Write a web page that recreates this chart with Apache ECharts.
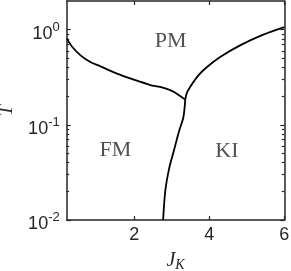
<!DOCTYPE html>
<html><head><meta charset="utf-8">
<script src="https://cdn.jsdelivr.net/npm/echarts@6/dist/echarts.min.js"></script>
<style>html,body{margin:0;padding:0;background:#fff}#c{width:291px;height:271px}</style>
</head><body><div id="c"></div>
<script>
// FM–PM boundary
const fmPmJ = [0.20, 0.35, 0.57, 0.83, 1.10, 1.54, 1.98, 2.43, 2.69, 2.96, 3.05, 3.36];
const fmPmT = [0.81, 0.657, 0.537, 0.457, 0.412, 0.345, 0.299, 0.262, 0.250, 0.232, 0.222, 0.184];
// PM–KI boundary
const pmKiJ = [3.36, 3.40, 3.49, 3.71, 3.94, 4.29, 4.82, 5.44, 6.00];
const pmKiT = [0.184, 0.215, 0.250, 0.331, 0.405, 0.516, 0.684, 0.887, 1.065];
// FM–KI boundary
const fmKiJ = [3.36, 3.31, 3.20, 3.06, 2.94, 2.83, 2.77];
const fmKiT = [0.184, 0.120, 0.0870, 0.0541, 0.0362, 0.0206, 0.0100];
// phase labels
const phaseNames = ['PM', 'FM', 'KI'];
const phaseJ = [2.97, 1.50, 4.47];
const phaseT = [0.757, 0.0535, 0.0530];
// ticks
const xTicks = [2, 4, 6];
const yMajor = [0.01, 0.1, 1];
const yMinor = [0.02,0.03,0.04,0.05,0.06,0.07,0.08,0.09,0.2,0.3,0.4,0.5,0.6,0.7,0.8,0.9];

const zip = (a, b) => a.map((v, i) => [v, b[i]]);
const axCol = '#262626';
const gridRect = {left: 66.7, right: 6.7, top: 1, bottom: 51, containLabel: false, outerBoundsMode: 'none'};
const xBase = {type: 'value', min: 0.2, max: 6, splitLine: {show: false}};
const yBase = {type: 'log', logBase: 10, min: 0.01, max: 2, splitLine: {show: false}};

const chart = echarts.init(document.getElementById('c'), null, {renderer: 'canvas'});
chart.setOption({
  animation: false,
  backgroundColor: '#fff',
  grid: [Object.assign({}, gridRect), Object.assign({}, gridRect)],
  xAxis: [
    Object.assign({}, xBase, {
      gridIndex: 0, position: 'bottom',
      axisLine: {lineStyle: {color: axCol, width: 1.5}},
      axisTick: {inside: true, length: 4, customValues: xTicks, lineStyle: {color: axCol, width: 1.2}},
      axisLabel: {customValues: xTicks, margin: 6, color: axCol, fontFamily: 'Liberation Sans', fontSize: 18},
      name: '{j|J}{k|K}', nameLocation: 'middle', nameGap: 30,
      nameTextStyle: {rich: {
        j: {fontFamily: 'Liberation Serif', fontStyle: 'italic', fontSize: 20, lineHeight: 20, padding: [1,0,1,0], color: axCol},
        k: {fontFamily: 'Liberation Serif', fontStyle: 'italic', fontSize: 14, lineHeight: 13, padding: [9,0,0,0], color: axCol}
      }}
    }),
    Object.assign({}, xBase, {
      gridIndex: 0, position: 'top',
      axisLine: {lineStyle: {color: axCol, width: 1.5}},
      axisTick: {inside: true, length: 4, customValues: xTicks, lineStyle: {color: axCol, width: 1.2}},
      axisLabel: {show: false}
    }),
    Object.assign({}, xBase, {gridIndex: 1, show: false})
  ],
  yAxis: [
    Object.assign({}, yBase, {
      gridIndex: 0, position: 'left',
      axisLine: {lineStyle: {color: axCol, width: 1.5}},
      axisTick: {inside: true, length: 4, customValues: yMajor, lineStyle: {color: axCol, width: 1.2}},
      axisLabel: {
        customValues: yMajor, margin: 7, align: 'right',
        formatter: v => '{b|10}{s|' + Math.round(Math.log10(v)) + '}',
        rich: {
          b: {fontFamily: 'Liberation Sans', fontSize: 18, lineHeight: 18, padding: [8,0,0,0], color: axCol},
          s: {fontFamily: 'Liberation Sans', fontSize: 13, lineHeight: 13, padding: [4,0,9,0], color: axCol}
        }
      },
      name: 'T', nameLocation: 'middle', nameGap: 50, nameRotate: 90,
      nameTextStyle: {fontFamily: 'Liberation Serif', fontStyle: 'italic', fontSize: 20, color: axCol}
    }),
    Object.assign({}, yBase, {
      gridIndex: 0, position: 'right',
      axisLine: {lineStyle: {color: axCol, width: 1.5}},
      axisTick: {inside: true, length: 4, customValues: yMajor, lineStyle: {color: axCol, width: 1.2}},
      axisLabel: {show: false}
    }),
    Object.assign({}, yBase, {
      gridIndex: 1, position: 'left',
      axisLine: {show: false},
      axisTick: {inside: true, length: 2.5, customValues: yMinor, lineStyle: {color: axCol, width: 1.2}},
      axisLabel: {show: false}
    }),
    Object.assign({}, yBase, {
      gridIndex: 1, position: 'right',
      axisLine: {show: false},
      axisTick: {inside: true, length: 2.5, customValues: yMinor, lineStyle: {color: axCol, width: 1.2}},
      axisLabel: {show: false}
    })
  ],
  series: [
    {type: 'line', xAxisIndex: 0, yAxisIndex: 0, data: zip(fmPmJ, fmPmT), showSymbol: false, symbol: 'none',
     smooth: 0.3, lineStyle: {color: '#000', width: 1.8}, clip: true},
    {type: 'line', xAxisIndex: 0, yAxisIndex: 0, data: zip(pmKiJ, pmKiT), showSymbol: false, symbol: 'none',
     smooth: 0.3, lineStyle: {color: '#000', width: 1.8}, clip: true},
    {type: 'line', xAxisIndex: 0, yAxisIndex: 0, data: zip(fmKiJ, fmKiT), showSymbol: false, symbol: 'none',
     smooth: 0.3, lineStyle: {color: '#000', width: 1.8}, clip: true},
    {type: 'scatter', xAxisIndex: 0, yAxisIndex: 0, symbolSize: 0,
     data: phaseNames.map((n, i) => ({name: n, value: [phaseJ[i], phaseT[i]]})),
     label: {show: true, position: 'inside', formatter: p => p.name,
       fontFamily: 'Liberation Serif', fontSize: 22, color: axCol},
     silent: true}
  ]
});
</script></body></html>
